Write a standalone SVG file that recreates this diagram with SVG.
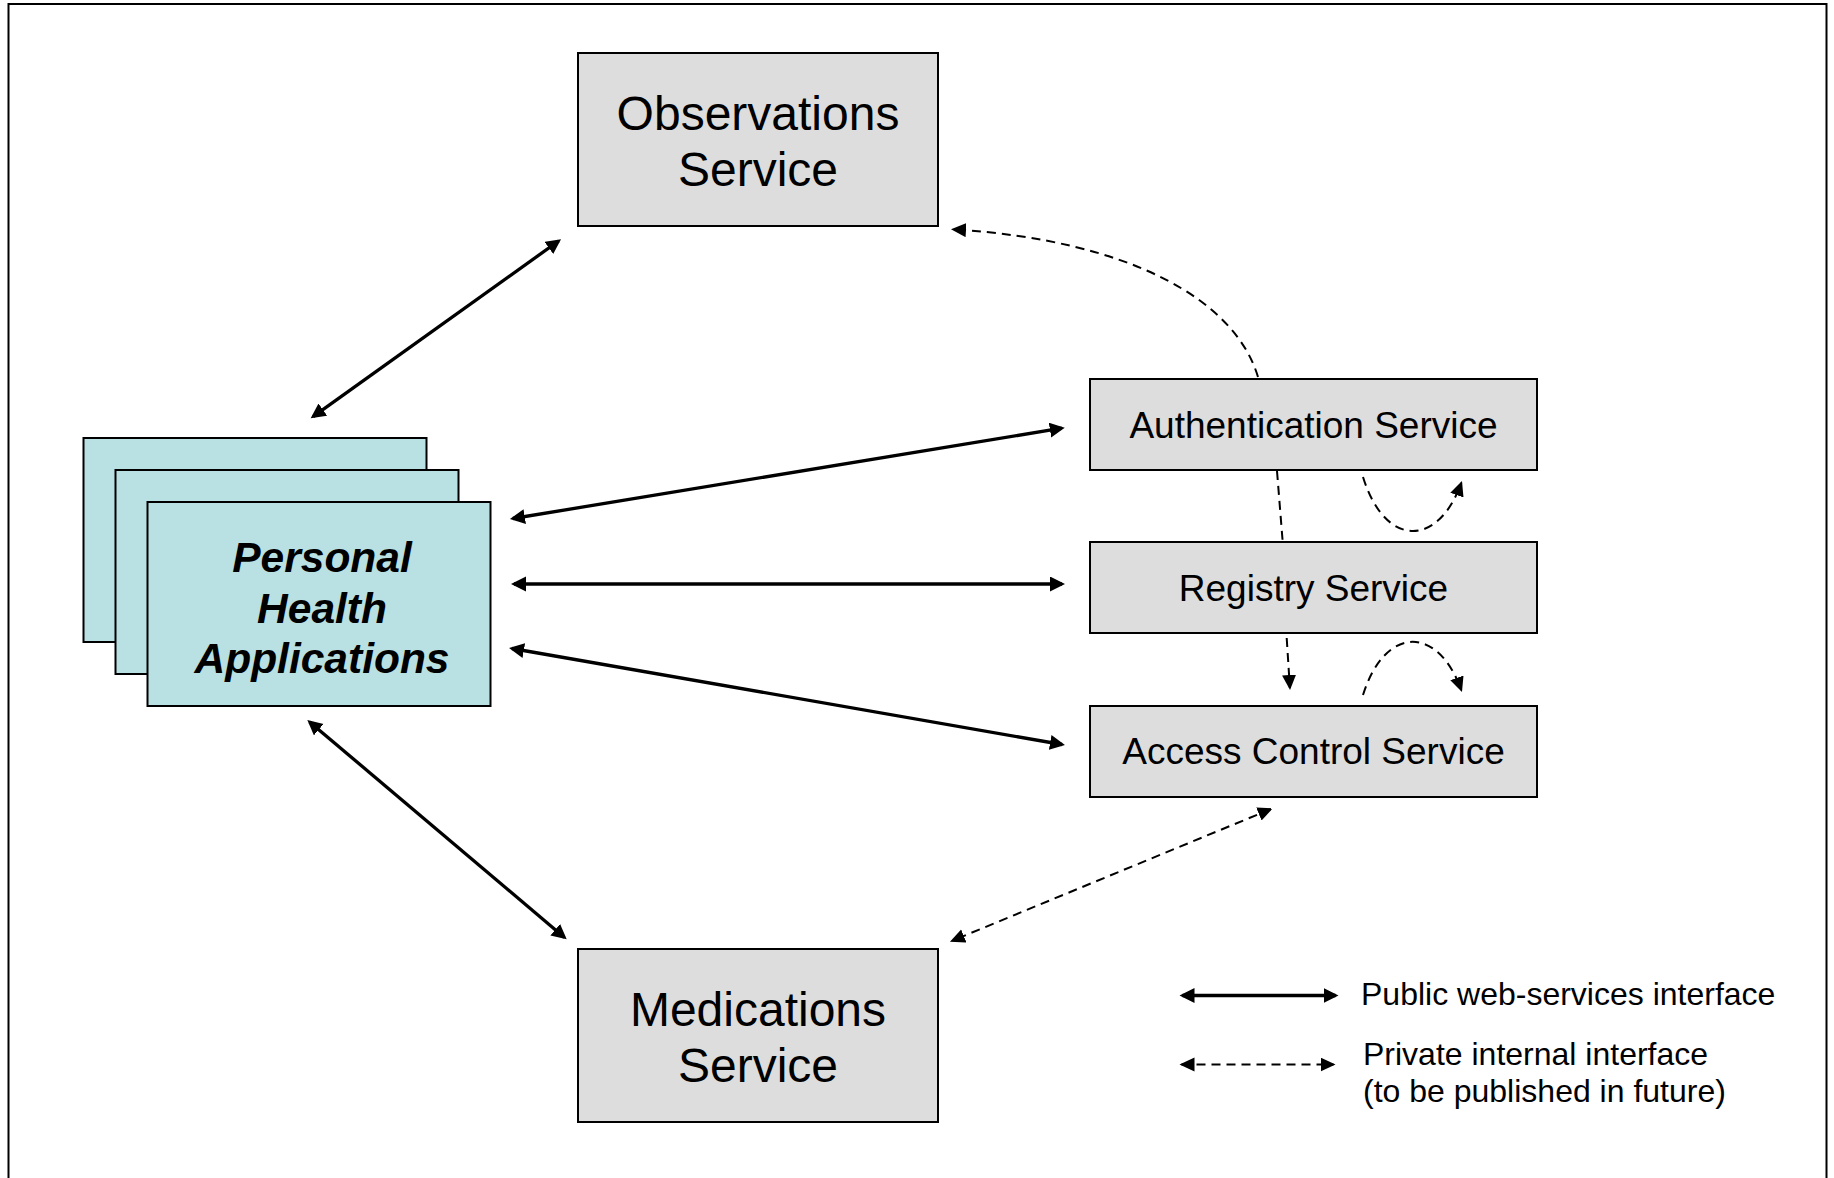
<svg xmlns="http://www.w3.org/2000/svg" width="1834" height="1178" viewBox="0 0 1834 1178">
<style>
  .box { fill: #DDDDDD; stroke: #000; stroke-width: 2; }
  .pha { fill: #B9E0E3; stroke: #000; stroke-width: 2; }
  .t { font-family: "Liberation Sans", Arial, sans-serif; fill: #000; text-anchor: middle; }
  .big { font-size: 48px; }
  .mid { font-size: 37px; }
  .phat { font-size: 42.5px; font-weight: bold; font-style: italic; }
  .leg { font-family: "Liberation Sans", Arial, sans-serif; font-size: 32px; fill: #000; }
  .solid { fill: none; stroke: #000; stroke-width: 3.3; marker-start: url(#ah); marker-end: url(#ah); }
  .dash { fill: none; stroke: #000; stroke-width: 2; stroke-dasharray: 9 6; }
</style>
<defs>
  <marker id="ah" markerUnits="userSpaceOnUse" markerWidth="16" markerHeight="16" refX="12" refY="7.5" orient="auto-start-reverse">
    <path d="M0,0 L15,7.5 L0,15 z" fill="#000"/>
  </marker>
  <marker id="ad" markerUnits="userSpaceOnUse" markerWidth="16" markerHeight="16" refX="13" refY="7" orient="auto-start-reverse">
    <path d="M0,0 L15,7 L0,14 z" fill="#000"/>
  </marker>
</defs>
<rect x="0" y="0" width="1834" height="1178" fill="#fff"/>
<rect x="8.5" y="4" width="1818" height="1200" fill="none" stroke="#000" stroke-width="2"/>

<g id="observations">
  <rect class="box" x="578" y="53" width="360" height="173"/>
  <text class="t big" x="758" y="130">Observations</text>
  <text class="t big" x="758" y="186">Service</text>
</g>
<g id="medications">
  <rect class="box" x="578" y="949" width="360" height="173"/>
  <text class="t big" x="758" y="1026">Medications</text>
  <text class="t big" x="758" y="1082">Service</text>
</g>
<g id="authentication">
  <rect class="box" x="1090" y="379" width="447" height="91"/>
  <text class="t mid" x="1313.5" y="437.5">Authentication Service</text>
</g>
<g id="registry">
  <rect class="box" x="1090" y="542" width="447" height="91"/>
  <text class="t mid" x="1313.5" y="600.5">Registry Service</text>
</g>
<g id="access-control">
  <rect class="box" x="1090" y="706" width="447" height="91"/>
  <text class="t mid" x="1313.5" y="764">Access Control Service</text>
</g>
<g id="personal-health-applications">
  <rect class="pha" x="83.5" y="438" width="343" height="204"/>
  <rect class="pha" x="115.5" y="470" width="343" height="204"/>
  <rect class="pha" x="147.5" y="502" width="343" height="204"/>
  <text class="t phat" x="322" y="572">Personal</text>
  <text class="t phat" x="322" y="623">Health</text>
  <text class="t phat" x="322" y="673">Applications</text>
</g>

<g id="connectors">
  <line class="solid" x1="313.1" y1="416.6" x2="558.6" y2="241"/>
  <line class="solid" x1="512.9" y1="518.5" x2="1061.8" y2="428.2"/>
  <line class="solid" x1="514" y1="584" x2="1062" y2="584"/>
  <line class="solid" x1="512" y1="648.5" x2="1062" y2="744.5"/>
  <line class="solid" x1="309.6" y1="721.9" x2="564.4" y2="937.4"/>
  <line class="dash" x1="1270.9" y1="809.1" x2="951.8" y2="940.9" marker-start="url(#ad)" marker-end="url(#ad)"/>
  <path class="dash" d="M1258,377 C1235,300 1130,240 953,229.4" marker-end="url(#ad)"/>
  <line class="dash" x1="1277" y1="471" x2="1282.7" y2="542"/>
  <line class="dash" x1="1286.7" y1="638" x2="1289.9" y2="688" marker-end="url(#ad)"/>
  <path class="dash" d="M1363,477 C1385,548 1438,548 1461.3,482.9" marker-end="url(#ad)"/>
  <path class="dash" d="M1363,695 C1385,625 1438,625 1461.3,690.1" marker-end="url(#ad)"/>
</g>

<g id="legend">
  <line class="solid" x1="1182.5" y1="995.5" x2="1335.5" y2="995.5"/>
  <text class="leg" x="1361" y="1005">Public web-services interface</text>
  <line class="dash" x1="1181.5" y1="1064.5" x2="1333.5" y2="1064.5" marker-start="url(#ad)" marker-end="url(#ad)"/>
  <text class="leg" x="1363" y="1065">Private internal interface</text>
  <text class="leg" x="1363" y="1102">(to be published in future)</text>
</g>
</svg>
